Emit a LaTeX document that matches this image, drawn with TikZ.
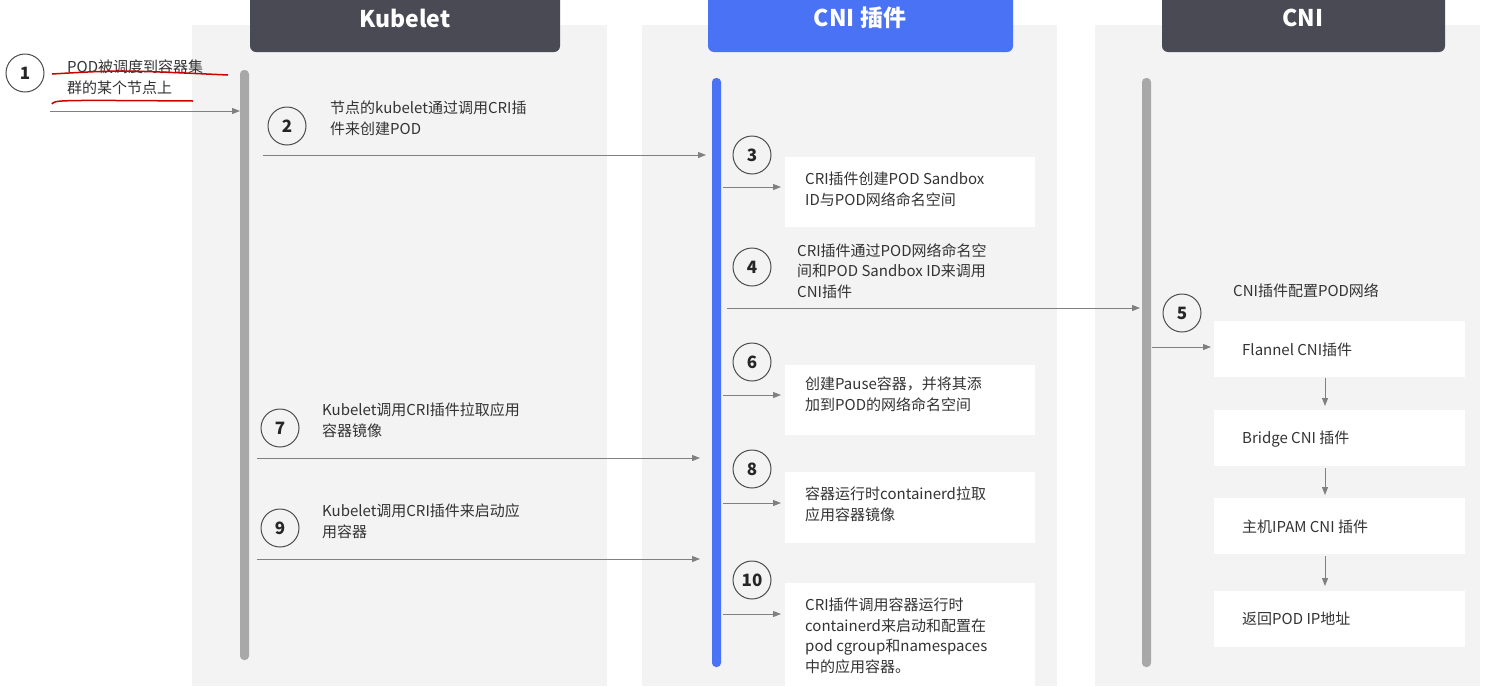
\documentclass[tikz,border=0pt]{standalone}
\usepackage{fontspec}
\setmainfont{Noto Sans CJK SC}
\usetikzlibrary{arrows.meta}
\definecolor{panel}{HTML}{F3F3F3}
\definecolor{hdark}{HTML}{4A4A55}
\definecolor{hblue}{HTML}{4A72F5}
\definecolor{bargray}{HTML}{A8A8A8}
\definecolor{txt}{HTML}{333333}
\definecolor{arr}{HTML}{808080}
\begin{document}
\begin{tikzpicture}[x=1pt,y=-1pt,
  hdr/.style={rounded corners=6pt,text=white,font=\fontsize{23}{26}\selectfont\bfseries,inner sep=0pt},
  num/.style={circle,draw=black!70,line width=1pt,minimum size=38pt,inner sep=0pt,font=\fontsize{17}{17}\selectfont\bfseries,text=black!85},
  lbl/.style={anchor=north west,align=left,text=txt,font=\fontsize{15}{20.5}\selectfont,inner sep=0pt},
  conn/.style={draw=arr,line width=1pt,-{Triangle[length=8pt,width=6pt]}}]
\useasboundingbox (0,0) rectangle (1489,686);
\fill[white] (0,0) rectangle (1489,686);
% panels
\fill[panel] (192,25) rectangle (607,686);
\fill[panel] (642,25) rectangle (1057,686);
\fill[panel] (1095,25) rectangle (1480,686);
% headers
\fill[hdark,rounded corners=6pt] (250,-10) rectangle (560,52);
\fill[hblue,rounded corners=6pt] (708,-10) rectangle (1013,52);
\fill[hdark,rounded corners=6pt] (1162,-10) rectangle (1445,52);
\node[hdr] (hk) at (405,18) {Kubelet};
\node[hdr] (hc) at (860,18) {CNI 插件};
\node[hdr] (hn) at (1303,18) {CNI};
% bars
\fill[bargray,rounded corners=4pt] (240,70) rectangle (249,660);
\fill[hblue,rounded corners=4pt] (712,78) rectangle (721,667);
\fill[bargray,rounded corners=4pt] (1142,78) rectangle (1151,667);
% white boxes
\fill[white] (785,157) rectangle (1035,227);
\fill[white] (785,365) rectangle (1035,435);
\fill[white] (785,472) rectangle (1035,543);
\fill[white] (785,583) rectangle (1035,686);
\foreach \y in {321,410,498,591}{\fill[white] (1214,\y) rectangle (1465,\y+56);}
% numbers
\node[num] (n1) at (25,73) {1};
\node[num] (n2) at (287,126) {2};
\node[num] (n3) at (752,155) {3};
\node[num] (n4) at (752,267) {4};
\node[num] (n5) at (1182,313) {5};
\node[num] (n6) at (752,362) {6};
\node[num] (n7) at (280,428) {7};
\node[num] (n8) at (752,469) {8};
\node[num] (n9) at (280,528) {9};
\node[num] (n10) at (752,580) {10};
% texts
\node[lbl] (t1) at (67,60) {POD被调度到容器集\\群的某个节点上};
\draw[red!80!black,line width=1.5pt] (52,74) .. controls (120,70) .. (228,75);
\draw[red!80!black,line width=1.5pt] (52,104) .. controls (55,100) .. (193,101);
\node[lbl] (t2) at (330,101) {节点的kubelet通过调用CRI插\\件来创建POD};
\node[lbl] (t3) at (805,172) {CRI插件创建POD Sandbox\\ID与POD网络命名空间};
\node[lbl] (t4) at (797,243) {CRI插件通过POD网络命名空\\间和POD Sandbox ID来调用\\CNI插件};
\node[lbl] (t5) at (1233,283) {CNI插件配置POD网络};
\node[lbl] (t6) at (805,377) {创建Pause容器，并将其添\\加到POD的网络命名空间};
\node[lbl] (t7) at (322,403) {Kubelet调用CRI插件拉取应用\\容器镜像};
\node[lbl] (t8) at (805,487) {容器运行时containerd拉取\\应用容器镜像};
\node[lbl] (t9) at (322,504) {Kubelet调用CRI插件来启动应\\用容器};
\node[lbl] (t10) at (805,598) {CRI插件调用容器运行时\\containerd来启动和配置在\\pod cgroup和namespaces\\中的应用容器。};
\node[lbl,anchor=west] (f) at (1242,350) {Flannel CNI插件};
\node[lbl,anchor=west] (b) at (1242,439) {Bridge CNI 插件};
\node[lbl,anchor=west] (i) at (1242,527) {主机IPAM CNI 插件};
\node[lbl,anchor=west] (r) at (1242,619) {返回POD IP地址};
% connectors
\coordinate (a1s) at (50,111); \coordinate (a1e) at (240,111);
\draw[conn] (a1s) -- (a1e);
\coordinate (a2s) at (263,155); \coordinate (a2e) at (706,155);
\draw[conn] (a2s) -- (a2e);
\coordinate (a4s) at (727,308); \coordinate (a4e) at (1140,308);
\draw[conn] (a4s) -- (a4e);
\coordinate (a5s) at (1152,347); \coordinate (a5e) at (1211,347);
\draw[conn] (a5s) -- (a5e);
\coordinate (a7s) at (257,458); \coordinate (a7e) at (700,458);
\draw[conn] (a7s) -- (a7e);
\coordinate (a9s) at (257,559); \coordinate (a9e) at (700,559);
\draw[conn] (a9s) -- (a9e);
\foreach \y in {187,395,503,614}{\draw[conn] (723,\y) -- (781,\y);}
\draw[conn] (1325,378) -- (1325,406);
\draw[conn] (1325,468) -- (1325,495);
\draw[conn] (1325,556) -- (1325,586);
\end{tikzpicture}
\end{document}
